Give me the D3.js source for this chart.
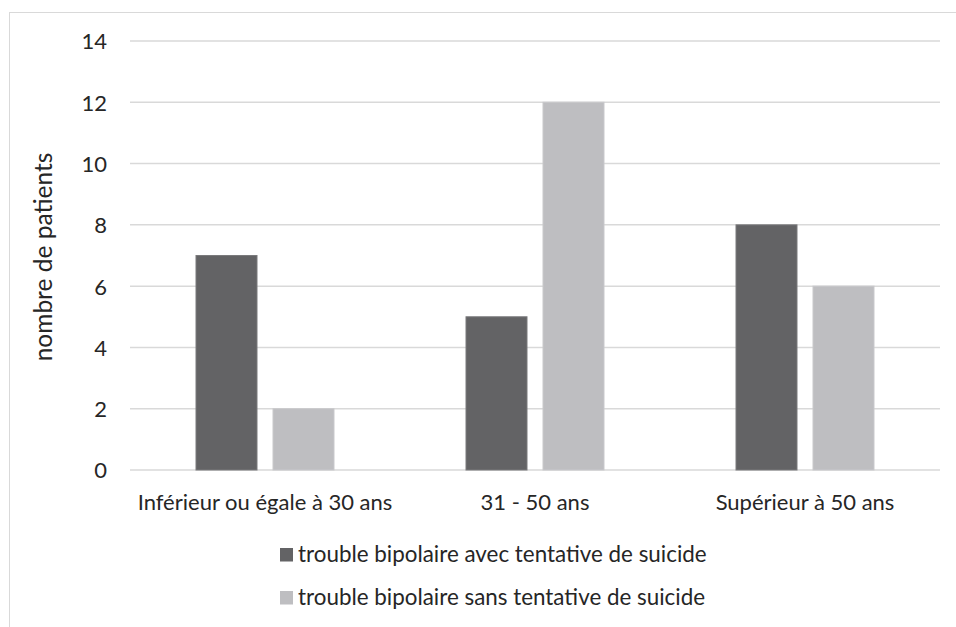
<!DOCTYPE html>
<html><head><meta charset="utf-8">
<script src="https://cdn.jsdelivr.net/npm/d3@7"></script>
<style>body{margin:0;background:#fff}svg{display:block}text{font-family:Lato,"Open Sans",sans-serif;fill:#262626}</style>
</head><body><svg id="c" width="956" height="627"></svg>
<script>
const categories = ["Inférieur ou égale à 30 ans", "31 - 50 ans", "Supérieur à 50 ans"];
const seriesNames = ["trouble bipolaire avec tentative de suicide", "trouble bipolaire sans tentative de suicide"];
const avecTentative = [7, 5, 8];
const sansTentative = [2, 12, 6];
const yTicks = [0, 2, 4, 6, 8, 10, 12, 14];
const colors = ["#636365", "#bebec1"];
const yTitle = "nombre de patients";

const svg = d3.select("#c");
svg.append("rect").attr("x", 9.5).attr("y", 12.5).attr("width", 1000).attr("height", 1000)
  .attr("fill", "none").attr("stroke", "#d9d9d9").attr("stroke-width", 1);

const L = 130, R = 940, T = 41, B = 470;
const x = d3.scaleBand().domain(categories).range([L, R]);
const y = d3.scaleLinear().domain([0, 14]).range([B, T]);
const barW = 61, gap = 16;
const x1 = d3.scaleOrdinal().domain([0, 1]).range([-(gap / 2 + barW), gap / 2]);

const grid = svg.append("g");
grid.selectAll("line").data(yTicks).join("line")
  .attr("x1", L).attr("x2", R).attr("y1", d => y(d)).attr("y2", d => y(d))
  .attr("stroke", "#d9d9d9").attr("stroke-width", 1.5);

const yAxis = d3.axisLeft(y).tickValues(yTicks).tickSize(0).tickPadding(0);
const ga = svg.append("g").attr("transform", `translate(${L - 23},0)`).call(yAxis);
ga.select(".domain").remove();
ga.selectAll("text").style("font-size", "22px").attr("font-family", null).attr("dy", "0.36em");

const series = [avecTentative, sansTentative];
series.forEach((vals, si) => {
  svg.append("g").selectAll("rect").data(vals).join("rect")
    .attr("x", (d, i) => x(categories[i]) + x.bandwidth() / 2 + x1(si))
    .attr("width", barW)
    .attr("y", d => y(d))
    .attr("height", d => y(0) - y(d))
    .attr("fill", colors[si])
    .attr("stroke", si === 0 ? "#7a7a7c" : "#c9c9cc").attr("stroke-width", 1);
});

const xAxis = d3.axisBottom(x).tickSize(0).tickPadding(0);
const gx = svg.append("g").attr("transform", `translate(0,${B + 40})`).call(xAxis);
gx.select(".domain").remove();
gx.selectAll("text").style("font-size", "22px").attr("font-family", null).attr("dy", "0");

svg.append("text").attr("transform", "translate(52,257) rotate(-90)")
  .attr("text-anchor", "middle").style("font-size", "24.5px").text(yTitle);

const lg = svg.append("g");
seriesNames.forEach((n, i) => {
  const base = 562 + i * 43;
  lg.append("rect").attr("x", 280).attr("y", base - 14).attr("width", 13).attr("height", 13.5).attr("fill", colors[i]);
  lg.append("text").attr("x", 298).attr("y", base).style("font-size", "22.4px").text(n);
});
</script></body></html>
